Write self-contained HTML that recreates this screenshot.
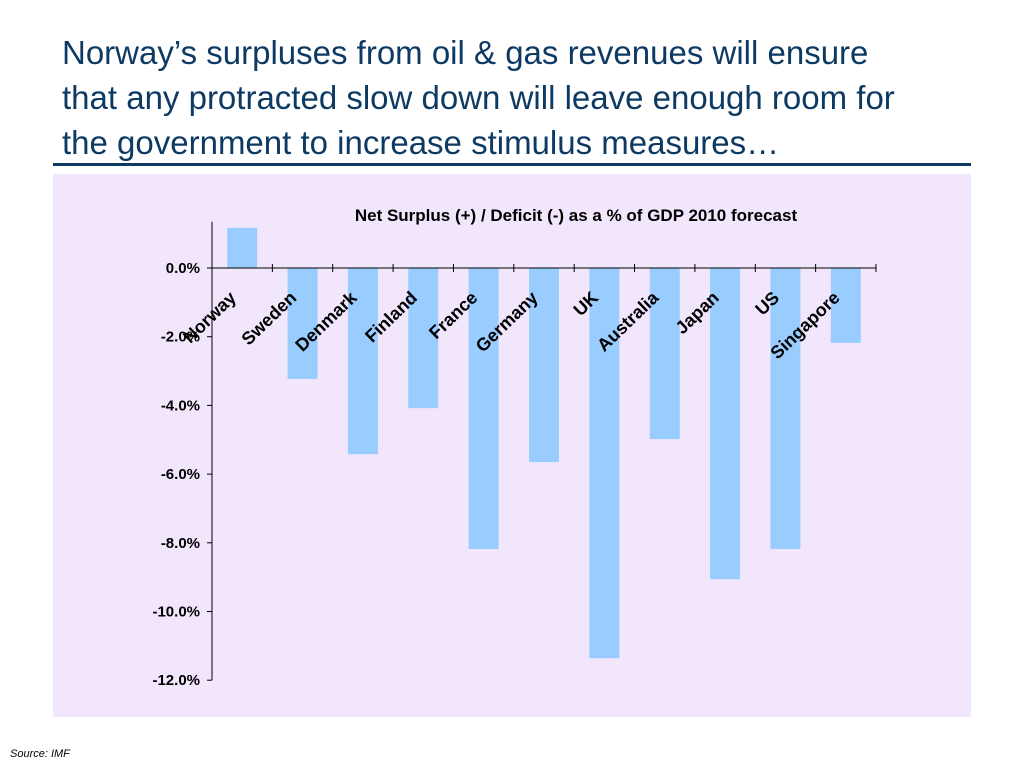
<!DOCTYPE html>
<html><head><meta charset="utf-8"><style>
body{margin:0;width:1024px;height:768px;background:#fff;font-family:"Liberation Sans",sans-serif;position:relative;overflow:hidden}
#title{position:absolute;left:62px;top:30px;font-size:33px;line-height:45px;color:#0d3a63;margin:0;font-weight:normal;white-space:nowrap}
#rule{position:absolute;left:53px;top:163px;width:918px;height:3px;background:#0d3a63}
#panel{position:absolute;left:53px;top:174px;width:918px;height:543px;background:#f2e6fc}
#src{position:absolute;left:10px;top:748px;font-size:11px;font-style:italic;color:#000}
</style></head><body>
<h1 id="title">Norway’s surpluses from oil &amp; gas revenues will ensure<br>that any protracted slow down will leave enough room for<br>the government to increase stimulus measures…</h1>
<div id="rule"></div>
<div id="panel"></div>
<svg id="chart" width="1024" height="768" style="position:absolute;left:0;top:0"></svg>
<div id="src">Source: IMF</div>
<script>
const categories=["Norway","Sweden","Denmark","Finland","France","Germany","UK","Australia","Japan","US","Singapore"];
const values=[1.17,-3.23,-5.42,-4.08,-8.18,-5.65,-11.36,-4.98,-9.06,-8.18,-2.18];
const ticks=[0,-2,-4,-6,-8,-10,-12];
const tickLabels=["0.0%","-2.0%","-4.0%","-6.0%","-8.0%","-10.0%","-12.0%"];
const ns="http://www.w3.org/2000/svg";
const svg=document.getElementById('chart');
const x0=212,x1=876,yZero=268,pxPer=34.35;
const yS=v=>yZero-v*pxPer;
const band=(x1-x0)/categories.length;
function mk(t,a){const e=document.createElementNS(ns,t);for(const k in a)e.setAttribute(k,a[k]);svg.appendChild(e);return e;}
const tt=mk('text',{x:576,y:221,'text-anchor':'middle','font-size':17,'font-weight':'bold','font-family':'Liberation Sans, sans-serif'});
tt.textContent="Net Surplus (+) / Deficit (-) as a % of GDP 2010 forecast";


values.forEach((v,i)=>{
 const cx=x0+band*(i+0.5);
 const r=mk('rect',{x:cx-15,y:Math.min(yS(v),yZero),width:30,height:Math.abs(yS(v)-yZero),fill:'#99ccff'});
 
 
});
const ya=mk('line',{x1:x0,y1:yS(1.17)-6,x2:x0,y2:yS(-12),stroke:'#000','stroke-width':1});


ticks.forEach((t,i)=>{
 mk('line',{x1:x0-5,y1:yS(t),x2:x0,y2:yS(t),stroke:'#000'});
 const l=mk('text',{x:x0-12,y:yS(t)+5,'text-anchor':'end','font-size':15,'font-weight':'bold','font-family':'Liberation Sans, sans-serif'});
 l.textContent=tickLabels[i];
 
 
});
const xa=mk('line',{x1:x0,y1:yZero,x2:x1,y2:yZero,stroke:'#000'});


for(let i=0;i<=categories.length;i++){const x=x0+band*i;mk('line',{x1:x,y1:yZero-4,x2:x,y2:yZero+4,stroke:'#000'});}
categories.forEach((c,i)=>{
 const cx=x0+band*(i+0.5)-5,cy=299;
 const l=mk('text',{x:cx,y:cy,'text-anchor':'end','font-size':18,'font-weight':'bold','font-family':'Liberation Sans, sans-serif',transform:`rotate(-44 ${cx} ${cy})`});
 l.textContent=c;
 
 
});
</script>
</body></html>
